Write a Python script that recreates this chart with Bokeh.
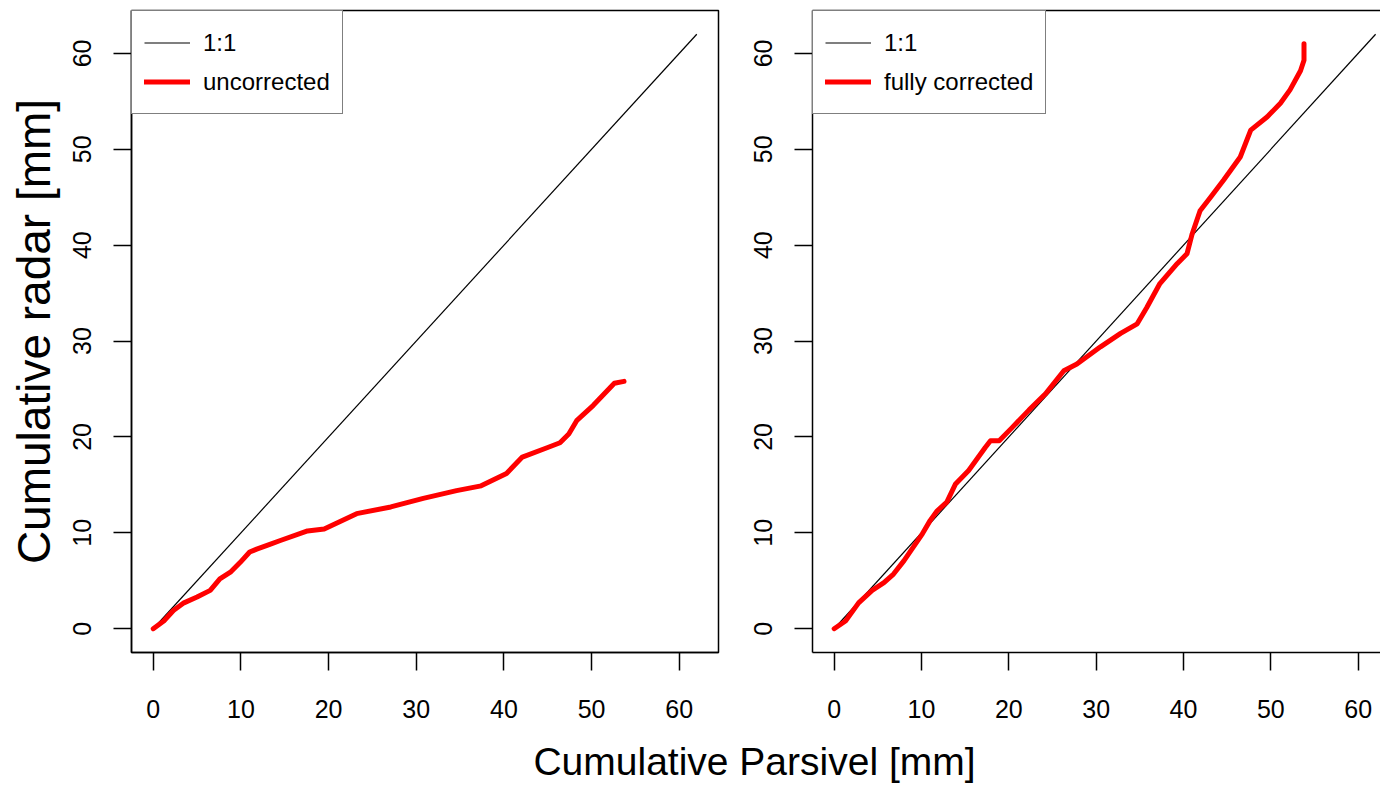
from bokeh.plotting import figure
from bokeh.models import Range1d, FixedTicker, LinearAxis, Legend, LegendItem, Label
from bokeh.layouts import column, row
from bokeh.embed import file_html
from bokeh.resources import INLINE

# ---- data ----
ticks = [0, 10, 20, 30, 40, 50, 60]
one_to_one = [0, 62]

parsivel_uncorr = [0, 1.2, 2.3, 3.5, 5.0, 6.5, 7.6, 8.8, 9.9, 11.0, 11.8, 13.3, 14.5, 17.6, 19.5,
                   23.2, 27.1, 30.8, 34.6, 37.4, 40.3, 42.1, 45.0, 46.4, 47.4, 48.3, 50.2, 52.6, 53.7]
radar_uncorr = [0, 0.8, 1.9, 2.7, 3.3, 4.0, 5.2, 5.9, 6.9, 8.0, 8.3, 8.8, 9.2, 10.2, 10.4,
                12.0, 12.7, 13.6, 14.4, 14.9, 16.2, 17.9, 18.9, 19.4, 20.3, 21.7, 23.3, 25.6, 25.8]

parsivel_corr = [0, 1.3, 2.8, 4.35, 5.7, 6.8, 8.0, 8.9, 10.1, 11.0, 11.8, 12.9, 13.9, 15.4, 17.3,
                 17.9, 18.9, 20.4, 22.3, 24.2, 26.3, 27.8, 30.5, 32.8, 34.7, 35.8, 37.3, 39.3, 40.4,
                 41.0, 41.9, 43.1, 44.6, 46.5, 47.7, 49.6, 51.1, 52.2, 53.4, 53.8, 53.8]
radar_corr = [0, 0.8, 2.7, 4.0, 4.8, 5.7, 7.1, 8.3, 9.9, 11.3, 12.3, 13.2, 15.1, 16.5, 18.9,
              19.6, 19.6, 21.0, 22.8, 24.5, 26.9, 27.6, 29.4, 30.8, 31.8, 33.5, 36.0, 38.1, 39.1,
              41.2, 43.6, 45.0, 46.8, 49.2, 52.0, 53.4, 54.8, 56.2, 58.2, 59.3, 61.0]

labels_unc = ["1:1", "uncorrected"]
labels_cor = ["1:1", "fully corrected"]
xlabel = "Cumulative Parsivel [mm]"
ylabel = "Cumulative radar [mm]"

FONT = "Liberation Sans"
TICK_FS = "25px"
LEG_FS = "24px"
RED = "#FF0000"


def style_axis(ax, vertical=False):
    ax.ticker = FixedTicker(ticks=ticks)
    ax.minor_tick_line_color = None
    ax.minor_tick_out = 0
    ax.major_tick_in = 0
    ax.major_tick_out = 18
    ax.major_tick_line_color = "black"
    ax.major_tick_line_width = 1.5
    ax.axis_line_color = "black"
    ax.axis_line_width = 1.5
    ax.major_label_text_font = FONT
    ax.major_label_text_font_size = TICK_FS
    ax.major_label_text_color = "black"
    if vertical:
        ax.major_label_orientation = "vertical"
        ax.major_label_standoff = 22
    else:
        ax.major_label_standoff = 29


def make_panel(width, border_left, border_right, xmax, xs, ys, labels, with_ylabel, outline):
    p = figure(width=width, height=722, output_backend="svg", toolbar_location=None,
               x_range=Range1d(-2.48, xmax), y_range=Range1d(-2.48, 64.48),
               min_border_left=border_left, min_border_right=border_right,
               min_border_top=10, min_border_bottom=70)
    p.grid.visible = False
    p.background_fill_color = "white"
    p.border_fill_color = "white"
    bottom_axis = p.below[0]
    left_axis = p.left[0]
    style_axis(bottom_axis)
    style_axis(left_axis, vertical=True)
    if outline:
        p.outline_line_color = "black"
        p.outline_line_width = 1.5
    else:
        # box drawn by axis lines only (the right edge lies outside the picture)
        p.outline_line_color = None
        top = LinearAxis(ticker=FixedTicker(ticks=[]), major_tick_out=0, major_tick_in=0,
                         minor_tick_out=0, minor_tick_in=0,
                         major_label_standoff=0, axis_line_color="black", axis_line_width=1.5,
                         minor_tick_line_color=None, major_tick_line_color=None,
                         major_label_text_font_size="0px")
        p.add_layout(top, "above")
    if with_ylabel:
        left_axis.axis_label = ylabel
        left_axis.axis_label_text_font = FONT
        left_axis.axis_label_text_font_size = "46px"
        left_axis.axis_label_text_font_style = "normal"
        left_axis.axis_label_text_color = "black"
        left_axis.axis_label_standoff = 11

    r1 = p.line(one_to_one, one_to_one, line_color="black", line_width=1.2)
    r2 = p.line(xs, ys, line_color=RED, line_width=5, line_join="round", line_cap="round")

    leg = Legend(items=[LegendItem(label=labels[0], renderers=[r1]),
                        LegendItem(label=labels[1], renderers=[r2])],
                 location="top_left", margin=0, padding=12, spacing=0,
                 label_height=39, glyph_height=39, glyph_width=46, label_standoff=13,
                 label_text_font=FONT, label_text_font_size=LEG_FS, label_text_color="black",
                 border_line_color="black", border_line_width=1.5,
                 background_fill_color="white", background_fill_alpha=1.0)
    p.add_layout(leg)
    return p


p1 = make_panel(720, 131, 2, 64.48, parsivel_uncorr, radar_uncorr, labels_unc, True, True)
p2 = make_panel(660, 92, 0, 62.56, parsivel_corr, radar_corr, labels_cor, False, False)

p3 = figure(width=1380, height=65, output_backend="svg", toolbar_location=None,
            x_range=Range1d(0, 1380), y_range=Range1d(0, 65),
            x_axis_location=None, y_axis_location=None,
            min_border=0)
p3.grid.visible = False
p3.outline_line_color = None
p3.add_layout(Label(x=754, y=26, text=xlabel, text_align="center", text_baseline="alphabetic",
                    text_font=FONT, text_font_size="39px", text_color="black"))

layout = column(row(p1, p2), p3)

open("out.html", "w").write(file_html(layout, INLINE))
